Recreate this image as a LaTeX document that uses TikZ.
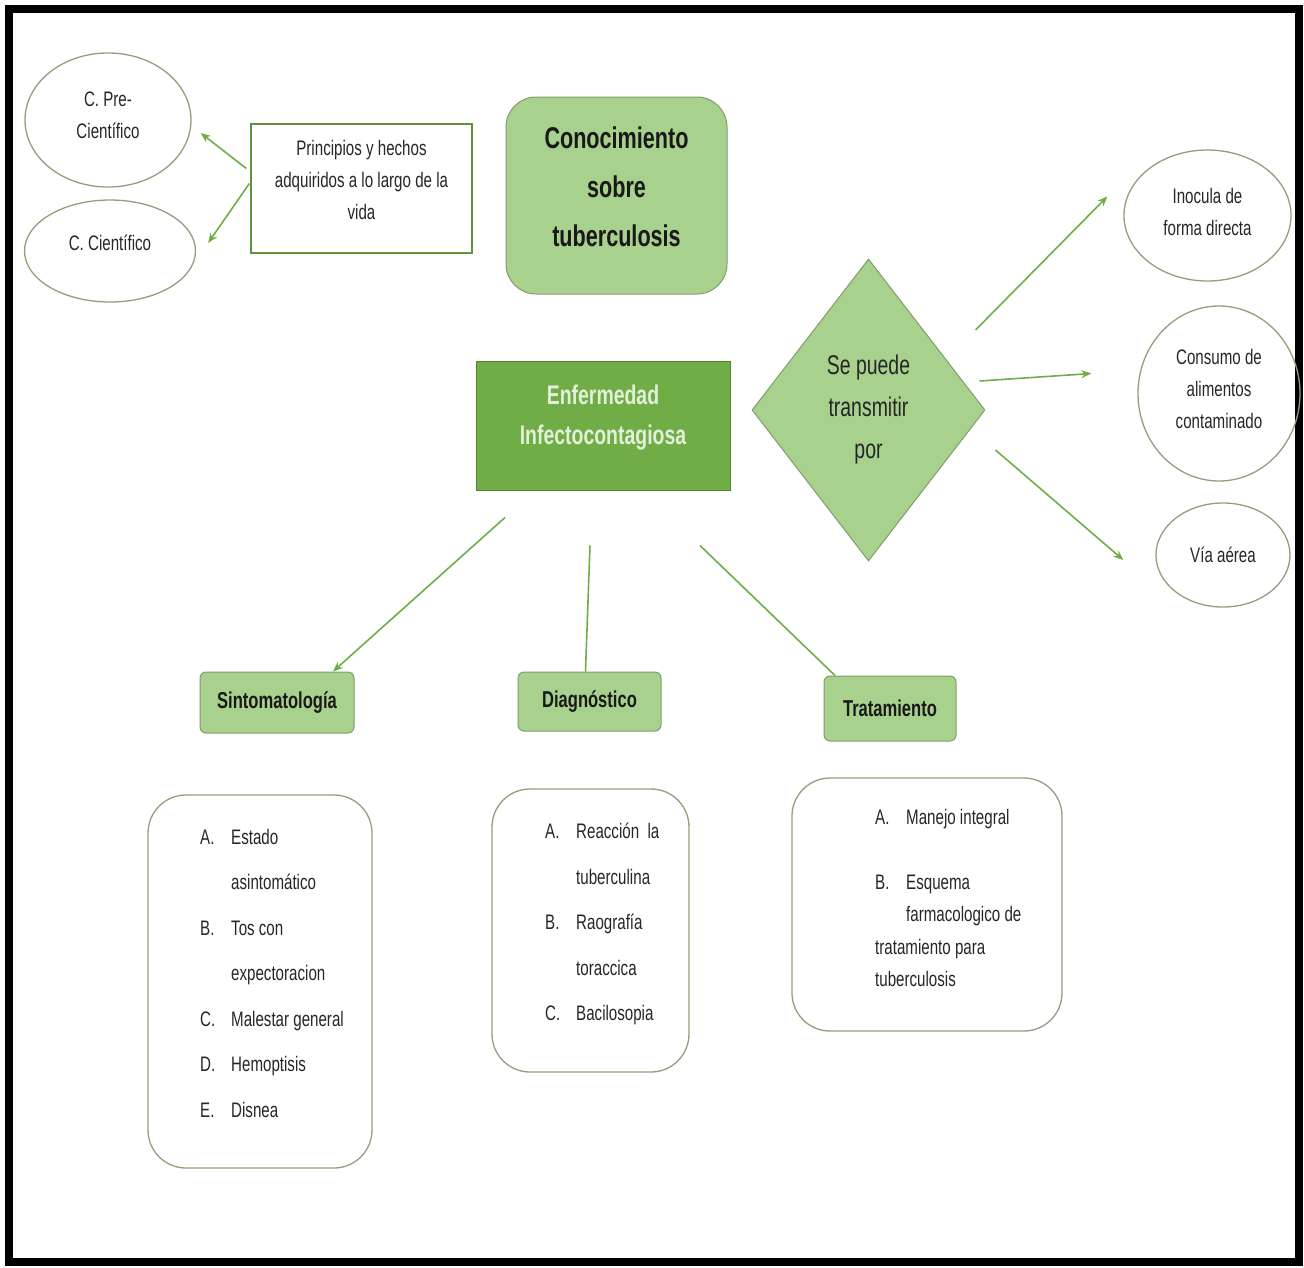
\documentclass[tikz,border=0pt]{standalone}
\usepackage{fontspec}
\setmainfont{Liberation Sans}[FakeStretch=0.72]
\usetikzlibrary{arrows.meta,positioning,calc,shapes.geometric}
\definecolor{lgreen}{HTML}{A9D18E}
\definecolor{mgreen}{HTML}{70AD47}
\definecolor{dgreen}{HTML}{548235}
\definecolor{oline}{HTML}{8FA07A}
\definecolor{pale}{HTML}{E2F0D9}
\newcommand{\itemlab}[1]{\makebox[31pt][l]{#1}}

\begin{document}
\begin{tikzpicture}[x=1pt,y=-1pt,
small/.style={font=\fontsize{21}{32}\selectfont, text=black!85, align=center, inner sep=0pt},
oval/.style={ellipse, draw=oline, line width=1.3pt, small},
listbox/.style={draw=oline, line width=1.3pt, rounded corners=38pt},
listtext/.style={font=\fontsize{21}{45.5}\selectfont, text=black!85, align=left, inner sep=0pt, anchor=north west},
headbox/.style={draw=lgreen!75!black, fill=lgreen, line width=1pt, rounded corners=6pt, font=\bfseries\fontsize{23}{28}\selectfont, text=black!90},
arr/.style={draw=mgreen, line width=1.6pt, -{Stealth[length=10pt,width=8pt]}},
link/.style={draw=mgreen, line width=1.6pt},
]
\useasboundingbox (0,0) rectangle (1304,1267);
\draw[line width=8pt] (9,9) rectangle (1299,1262);

\node[oval, text depth=10pt, minimum width=166pt, minimum height=134pt] (pre) at (108,120) {C. Pre-\\Científico};
\node[oval, text depth=16pt, minimum width=171pt, minimum height=102pt] (sci) at (110,251) {C. Científico};
\node[small, text depth=18pt, draw=mgreen!85!black, line width=1.3pt, minimum width=221pt, minimum height=129pt] (princ) at (361.5,188.5) {Principios y hechos\\adquiridos a lo largo de la\\vida};
\node[draw=lgreen!75!black, fill=lgreen, line width=1pt, rounded corners=30pt, minimum width=221pt, minimum height=197pt, text depth=18pt, align=center, font=\bfseries\fontsize{30}{49}\selectfont, text=black!90] (con) at (616.5,195.5) {Conocimiento\\sobre\\tuberculosis};

\node[draw=dgreen, fill=mgreen, line width=1pt, minimum width=254pt, minimum height=129pt, text depth=22pt, align=center, font=\bfseries\fontsize{27}{40}\selectfont, text=pale] (enf) at (603,425.5) {Enfermedad\\Infectocontagiosa};
\node[diamond, draw=lgreen!75!black, fill=lgreen, line width=1pt, inner sep=0pt, minimum width=233pt, minimum height=302pt, align=center, font=\fontsize{27}{42}\selectfont, text=black!85] (dia) at (868.5,410) {Se puede\\transmitir\\por};

\node[oval, text depth=8pt, minimum width=167pt, minimum height=131pt] (ino) at (1207.5,215.5) {Inocula de\\forma directa};
\node[oval, text depth=10pt, minimum width=162pt, minimum height=175pt] (cons) at (1219,393.5) {Consumo de\\alimentos\\contaminado};
\node[oval, minimum width=134pt, minimum height=104pt] (via) at (1223,555) {Vía aérea};

\node[headbox, minimum width=154pt, minimum height=61pt] (sin) at (277,702.5) {Sintomatología};
\node[headbox, minimum width=143pt, minimum height=59pt] (diag) at (589.5,701.5) {Diagnóstico};
\node[headbox, minimum width=132pt, minimum height=65pt] (trat) at (890,708.5) {Tratamiento};

\node[listbox, minimum width=224pt, minimum height=373pt] (sin-b) at (260,981.5) {};
\node[listbox, minimum width=197pt, minimum height=283pt] (diag-b) at (590.5,930.5) {};
\node[listbox, minimum width=270pt, minimum height=253pt] (trat-b) at (927,904.5) {};

\node[listtext] (sin-l) at (200,829) {\itemlab{A.}Estado\\\hspace*{31pt}asintomático\\\itemlab{B.}Tos con\\\hspace*{31pt}expectoracion\\\itemlab{C.}Malestar general\\\itemlab{D.}Hemoptisis\\\itemlab{E.}Disnea};
\node[listtext] (diag-l) at (545,823) {\itemlab{A.}Reacción \ la\\\hspace*{31pt}tuberculina\\\itemlab{B.}Raografía\\\hspace*{31pt}toraccica\\\itemlab{C.}Bacilosopia};
\node[listtext, font=\fontsize{21}{32.5}\selectfont] (trat-l) at (875,809) {\itemlab{A.}Manejo integral\\[32.5pt]\itemlab{B.}Esquema\\\hspace*{31pt}farmacologico de\\tratamiento para\\tuberculosis};

\draw[arr] ([shift={(-4pt,20pt)}]princ.west) -- ([shift={(9pt,-13pt)}]pre.east);
\draw[arr] ([shift={(-1pt,5pt)}]princ.west) -- ([shift={(12pt,8pt)}]sci.east);
\draw[arr] ([shift={(-10pt,80pt)}]dia.east) -- ([shift={(-16pt,19pt)}]ino.west);
\draw[arr] ([shift={(-6pt,29pt)}]dia.east) -- ([shift={(-46pt,20pt)}]cons.west);
\draw[arr] ([shift={(10pt,-40pt)}]dia.east) -- ([shift={(-32pt,-5pt)}]via.west);
\draw[arr] ([shift={(-98pt,-27pt)}]enf.south) -- ([xshift=56pt]sin.north);
\draw[link] ([shift={(-13pt,-55pt)}]enf.south) -- ([xshift=-4pt]diag.north);
\draw[link] ([shift={(97pt,-55pt)}]enf.south) -- ([xshift=-55pt]trat.north);
\end{tikzpicture}
\end{document}
